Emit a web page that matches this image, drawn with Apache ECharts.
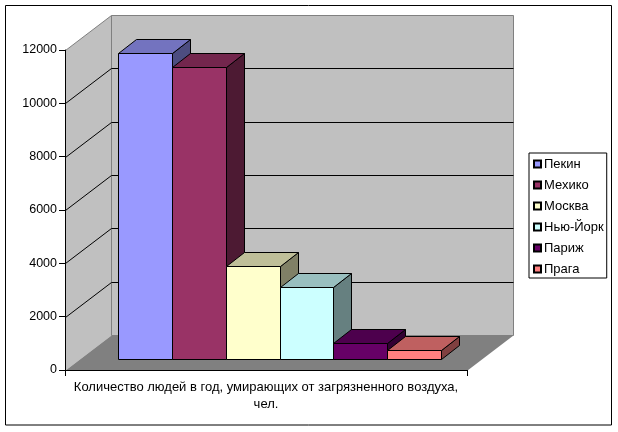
<!DOCTYPE html>
<html>
<head>
<meta charset="utf-8">
<style>html,body{margin:0;padding:0;background:#fff}#c{width:618px;height:432px}</style>
<script src="https://cdn.jsdelivr.net/npm/echarts@6/dist/echarts.min.js"></script>
</head>
<body>
<div id="c"></div>
<script>
const cities = ['Пекин', 'Мехико', 'Москва', 'Нью-Йорк', 'Париж', 'Прага'];
const deaths = [11470, 10950, 3500, 2700, 600, 350];
const cityColors = ['#9999FF', '#993366', '#FFFFCC', '#CCFFFF', '#660066', '#FF8080'];
const categoryLabel = ['Количество людей в год, умирающих от загрязненного воздуха,\nчел.'];
const yTicks = [0, 2000, 4000, 6000, 8000, 10000, 12000];

const FONT = '"Liberation Sans", Arial, sans-serif';
const WALL_DX = 46, WALL_DY = 35;
const BAR_DX = 18, BAR_DY = 14;
const BAR_LEFT = 53.2, BAR_W = 53.8, BAR_FLOOR = 11;

function shade(hex, f) {
  const n = parseInt(hex.slice(1), 16);
  const c = [n >> 16 & 255, n >> 8 & 255, n & 255].map(v => Math.round(v * f));
  return 'rgb(' + c.join(',') + ')';
}
const px = v => Math.round(v) + 0.5;
const poly = (pts, fill, stroke, lw) => ({
  type: 'polygon',
  shape: { points: pts },
  style: { fill: fill, stroke: stroke || null, lineWidth: lw || 1 }
});

function renderWalls(params, api) {
  const o = api.coord([0, 0]);
  const band = api.size([1, 0])[0];
  const x0 = px(o[0] - band / 2), y0 = px(o[1]);
  const x1 = px(o[0] + band / 2);
  const ytop = px(api.coord([0, yTicks[yTicks.length - 1]])[1]);
  const bx0 = x0 + WALL_DX, bx1 = x1 + WALL_DX;
  const children = [
    poly([[x0, ytop], [bx0, ytop - WALL_DY], [bx0, y0 - WALL_DY], [x0, y0]], '#C0C0C0'),
    poly([[bx0, ytop - WALL_DY], [bx1, ytop - WALL_DY], [bx1, y0 - WALL_DY], [bx0, y0 - WALL_DY]], '#C0C0C0', '#808080', 1),
    poly([[x0, y0], [bx0, y0 - WALL_DY], [bx1, y0 - WALL_DY], [x1, y0]], '#808080')
  ];
  children.push({
    type: 'polyline',
    shape: { points: [[x0, ytop], [bx0, ytop - WALL_DY]] },
    style: { fill: null, stroke: '#808080', lineWidth: 1 }
  });
  yTicks.slice(1, -1).forEach(t => {
    const y = px(api.coord([0, t])[1]);
    children.push({
      type: 'polyline',
      shape: { points: [[x0, y], [bx0, y - WALL_DY], [bx1, y - WALL_DY]] },
      style: { fill: null, stroke: '#000', lineWidth: 1 }
    });
  });
  return { type: 'group', children: children };
}

function barRenderer(i) {
  return function (params, api) {
    const o = api.coord([0, 0]);
    const band = api.size([1, 0])[0];
    const left = o[0] - band / 2 + BAR_LEFT;
    const x0 = px(left + i * BAR_W), x1 = px(left + (i + 1) * BAR_W);
    const yb = px(o[1] - BAR_FLOOR);
    const yt = px(o[1] - BAR_FLOOR - api.size([0, api.value(1)])[1]);
    const c = cityColors[i];
    return {
      type: 'group',
      children: [
        poly([[x1, yt], [x1 + BAR_DX, yt - BAR_DY], [x1 + BAR_DX, yb - BAR_DY], [x1, yb]], shade(c, 0.5), '#000'),
        poly([[x0, yt], [x0 + BAR_DX, yt - BAR_DY], [x1 + BAR_DX, yt - BAR_DY], [x1, yt]], shade(c, 0.75), '#000'),
        poly([[x0, yt], [x1, yt], [x1, yb], [x0, yb]], c, '#000')
      ]
    };
  };
}

const series = [{
  type: 'custom',
  name: '__walls',
  silent: true,
  clip: false,
  z: 1,
  renderItem: renderWalls,
  data: [[0, 0]]
}].concat(cities.map((name, i) => ({
  type: 'custom',
  name: name,
  clip: false,
  z: 2 + i,
  renderItem: barRenderer(i),
  itemStyle: { color: cityColors[i], borderColor: '#000', borderWidth: 1 },
  encode: { x: 0, y: 1 },
  data: [[0, deaths[i]]]
})));

const chart = echarts.init(document.getElementById('c'), null, { renderer: 'canvas' });
chart.setOption({
  animation: false,
  backgroundColor: '#fff',
  textStyle: { fontFamily: FONT },
  grid: { left: 65, top: 50, width: 402, height: 320, containLabel: false },
  xAxis: {
    type: 'category',
    data: categoryLabel,
    z: 20,
    axisLine: { show: true, lineStyle: { color: '#000', width: 1 } },
    axisTick: { show: true, length: 6, alignWithLabel: false, lineStyle: { color: '#000' } },
    axisLabel: { color: '#000', fontSize: 13, fontFamily: FONT, margin: 9, lineHeight: 17, interval: 0, overflow: 'none' }
  },
  yAxis: {
    type: 'value',
    min: 0,
    max: 12000,
    interval: 2000,
    z: 20,
    splitLine: { show: false },
    axisLine: { show: true, lineStyle: { color: '#000', width: 1 } },
    axisTick: { show: true, length: 6, lineStyle: { color: '#000' } },
    axisLabel: { color: '#000', fontSize: 12.5, fontFamily: FONT, margin: 8, formatter: v => String(v) }
  },
  legend: {
    orient: 'vertical',
    left: 529,
    top: 153,
    padding: [4, 3, 2, 4],
    data: cities,
    icon: 'rect',
    itemWidth: 7,
    itemHeight: 7,
    itemGap: 7,
    selectedMode: false,
    borderColor: '#000',
    borderWidth: 1,
    textStyle: { color: '#000', fontSize: 13, fontFamily: FONT, padding: [0, 0, 0, -2], lineHeight: 14 }
  },
  graphic: [{
    type: 'rect',
    z: -10,
    silent: true,
    shape: { x: 5.5, y: 5.5, width: 606, height: 419.5 },
    style: { fill: '#fff', stroke: '#000', lineWidth: 1 }
  }],
  series: series
});
</script>
</body>
</html>
